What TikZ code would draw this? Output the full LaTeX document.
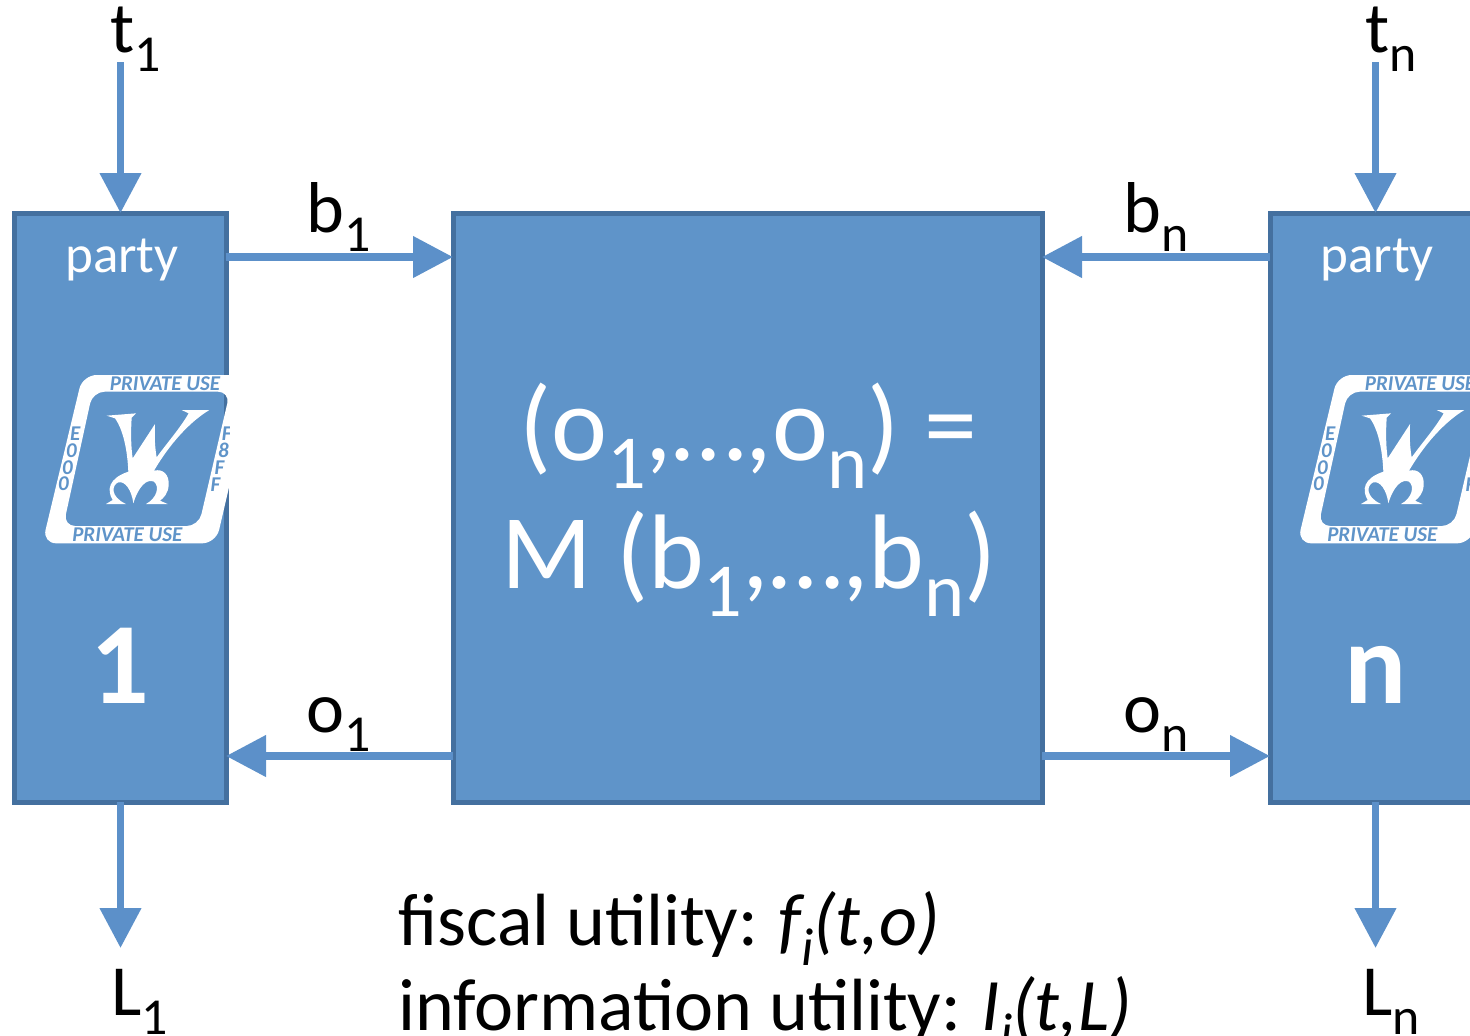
\documentclass[tikz,border=0pt]{standalone}
\usepackage{fontspec}
\setmainfont{Carlito}
\usepackage{xcolor}
\usetikzlibrary{arrows.meta}
\definecolor{boxfill}{HTML}{5F94C9}
\definecolor{boxline}{HTML}{44709F}
\definecolor{flowline}{HTML}{5C90C9}
\newcommand{\subtxt}[1]{\raisebox{-0.27em}{\scalebox{0.72}{#1}}}

\tikzset{
    logo/.pic={
        \begin{scope}[x=0.16667pt, y=-0.16667pt]
            \fill[white, even odd rule]
                [rounded corners=7pt] (248,75) -- (765,75) -- (648,580) -- (127,580) -- cycle
                [rounded corners=6pt] (278,125) -- (690,125) -- (596,528) -- (190,528) -- cycle;
            % the W and the curl under it
            \fill[white] (320,197) -- (408,190) -- (395,203)
                .. controls (392,250) and (393,290) .. (398,325)
                -- (465,222)
                .. controls (463,260) and (465,295) .. (470,322)
                .. controls (500,280) and (540,235) .. (566,190)
                -- (545,180) -- (628,180)
                .. controls (570,215) and (510,280) .. (462,362)
                .. controls (490,355) and (508,375) .. (506,405)
                .. controls (505,430) and (490,445) .. (480,452)
                -- (503,462) -- (438,462)
                .. controls (470,445) and (480,410) .. (462,395)
                .. controls (440,385) and (415,410) .. (400,460)
                .. controls (395,420) and (375,392) .. (355,397)
                .. controls (335,405) and (330,440) .. (378,462)
                -- (318,462) -- (338,450)
                .. controls (320,420) and (325,385) .. (385,365)
                .. controls (382,300) and (370,240) .. (345,205) -- cycle;
            \node[logotext] (topuse) at (495,101) {PRIVATE USE};
            \node[logotext] (lowuse) at (382,555) {PRIVATE USE};
            \foreach \x/\y/\ch [count=\i] in {226/252/E, 214/302/0, 202/352/0, 190/402/0}
                \node[logotext] (lo\i) at (\x,\y) {\ch};
            \foreach \x/\y/\ch [count=\i] in {680/252/F, 670/302/8, 658/352/F, 646/405/F}
                \node[logotext] (hi\i) at (\x,\y) {\ch};
        \end{scope}
    },
}

\begin{document}
\begin{tikzpicture}[
    x=0.5pt, y=-0.5pt,
    >={Triangle[length=20pt, width=20pt]},
    logotext/.style={text=boxfill, inner sep=0pt, font=\fontsize{10.5}{12}\selectfont\bfseries\itshape},
    block/.style={draw=boxline, line width=2.5pt, fill=boxfill, outer sep=0pt, anchor=north west},
    flow/.style={draw=flowline, line width=3.75pt, ->},
    lab/.style={inner sep=0pt, anchor=base west, font=\fontsize{36}{40}\selectfont},
    util/.style={inner sep=0pt, anchor=base west, font=\fontsize{37}{40}\selectfont},
    intext/.style={text=white, inner sep=0pt, anchor=base},
]
    \useasboundingbox (0,0) rectangle (1470,1035);

    \node[block, minimum width=105.75pt, minimum height=294.5pt] (party1) at (14.5,213) {};
    \node[block, minimum width=294.5pt, minimum height=294.5pt] (mech) at (453,213) {};
    \node[block, minimum width=110pt, minimum height=294.5pt] (partyn) at (1270,213) {};

    \begin{scope}
        \clip (0,0) rectangle (229.5,1035);
        \pic (logoa) at (0,350) {logo};
    \end{scope}
    \pic (logob) at (1255,350) {logo};

    \node[intext, font=\fontsize{26.5}{28}\selectfont] (partya) at (122,272) {party};
    \node[intext, font=\fontsize{26.5}{28}\selectfont] (partyb) at (1377,272) {party};
    \node[intext, font=\fontsize{58}{70}\selectfont\bfseries] (numa) at (120,703) {1};
    \node[intext, font=\fontsize{58}{70}\selectfont\bfseries] (numb) at (1376,703) {n};

    \node[intext, font=\fontsize{53}{60}\selectfont] (outcome) at (748,460) {(o\subtxt{1},…,o\subtxt{n}) =};
    \node[intext, font=\fontsize{53}{60}\selectfont] (rule) at (749,588) {M (b\subtxt{1},…,b\subtxt{n})};

    % Free ends
    \coordinate (ta) at (120.5,62);
    \coordinate (tb) at (1375.5,62);
    \coordinate (la) at (120.5,948);
    \coordinate (lb) at (1375.5,948);

    \draw[flow] (ta) -- (ta |- party1.north);
    \draw[flow] (tb) -- (tb |- partyn.north);
    \draw[flow] (la |- party1.south) -- (la);
    \draw[flow] (lb |- partyn.south) -- (lb);

    \draw[flow] ([yshift=-22pt]party1.north east) -- ([yshift=-22pt]mech.north west);
    \draw[flow] ([yshift=-22pt]partyn.north west) -- ([yshift=-22pt]mech.north east);
    \draw[flow] ([yshift=23pt]mech.south west) -- ([yshift=23pt]party1.south east);
    \draw[flow] ([yshift=23pt]mech.south east) -- ([yshift=23pt]partyn.south west);

    \node[lab] (t1) at (110,52) {t\subtxt{1}};
    \node[lab] (tn) at (1365,52) {t\subtxt{n}};
    \node[lab] (b1) at (306,232) {b\subtxt{1}};
    \node[lab] (bn) at (1123,232) {b\subtxt{n}};
    \node[lab] (o1) at (306,732) {o\subtxt{1}};
    \node[lab] (on) at (1123,732) {o\subtxt{n}};
    \node[lab] (l1) at (111,1015) {L\subtxt{1}};
    \node[lab] (ln) at (1362,1015) {L\subtxt{n}};

    \node[util] (fiscal) at (398,945) {fiscal utility:\hspace{-0.03em} \textit{f\subtxt{i}(t,o)}};
    \node[util] (info) at (398,1030) {information utility:\hspace{-0.03em} \textit{I\subtxt{i}(t,L)}};
\end{tikzpicture}
\end{document}
